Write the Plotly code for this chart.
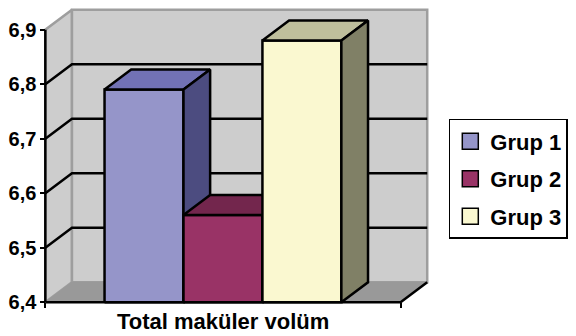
import plotly.graph_objects as go

# ---- data ----
categories = ["Total maküler volüm"]
series_names = ["Grup 1", "Grup 2", "Grup 3"]
values = [6.79, 6.56, 6.88]
tick_values = [6.4, 6.5, 6.6, 6.7, 6.8, 6.9]
tick_labels = ["6,4", "6,5", "6,6", "6,7", "6,8", "6,9"]

# ---- styles ----
front_colors = ["#9595C9", "#993366", "#FAF8D0"]
top_colors = ["#7272B5", "#73264D", "#BFBF9C"]
side_colors = ["#4C4C80", "#4D1A33", "#808066"]
WALL = "#CDCDCD"
WALL_EDGE = "#9E9E9E"
FLOOR = "#999999"
FONT = "Liberation Sans, Arial, sans-serif"

Y0, Y1 = tick_values[0], tick_values[-1]
GAP = 1.5            # Excel gap width (relative to bar width)
DX = 0.075           # depth offset, x units
DY = 0.0367          # depth offset, y units
BW = 1.0 / (len(series_names) + GAP)

fig = go.Figure()

def poly(xs, ys, fill, line_color, lw, **kw):
    fig.add_trace(go.Scatter(x=xs + [xs[0]], y=ys + [ys[0]], mode="lines", fill="toself",
                             fillcolor=fill, line=dict(color=line_color, width=lw),
                             hoverinfo="skip", showlegend=False, **kw))

def seg(xs, ys, color, lw):
    fig.add_trace(go.Scatter(x=xs, y=ys, mode="lines", line=dict(color=color, width=lw),
                             hoverinfo="skip", showlegend=False))

# walls and floor
poly([0, DX, DX, 0], [Y0, Y0 + DY, Y1 + DY, Y1], WALL, WALL_EDGE, 2.5)
poly([DX, 1 + DX, 1 + DX, DX], [Y0 + DY, Y0 + DY, Y1 + DY, Y1 + DY], WALL, WALL_EDGE, 2.5)
poly([0, 1, 1 + DX, DX], [Y0, Y0, Y0 + DY, Y0 + DY], FLOOR, FLOOR, 1)

# gridlines
for v in tick_values[1:-1]:
    seg([0, DX, 1 + DX], [v, v + DY, v + DY], "black", 2.5)

# bars
for i, (name, v) in enumerate(zip(series_names, values)):
    xl = GAP / 2 * BW + i * BW
    xr = xl + BW
    poly([xl, xr, xr, xl], [Y0, Y0, v, v], front_colors[i], "black", 2.5,
         legendgroup=name, name=name)
    poly([xl, xr, xr + DX, xl + DX], [v, v, v + DY, v + DY], top_colors[i], "black", 2.5,
         legendgroup=name, name=name)
    poly([xr, xr + DX, xr + DX, xr], [Y0, Y0 + DY, v + DY, v], side_colors[i], "black", 2.5,
         legendgroup=name, name=name)

# axis lines
seg([0, 0], [Y0, Y1], "black", 2.5)
seg([0, 1, 1 + DX], [Y0, Y0, Y0 + DY], "black", 2.5)

# legend entries
for i, name in enumerate(series_names):
    fig.add_trace(go.Scatter(x=[None], y=[None], mode="markers", name=name, legendgroup=name,
                             marker=dict(symbol="square", size=16, color=front_colors[i],
                                         line=dict(color="black", width=1.5))))

# ---- layout geometry ----
W, H = 576, 336
PX_X = 361.0      # px per x unit
PX_Y = 544.0      # px per y unit
X_LEFT_PX, Y_BASE_PX = 42.0, 302.0
XL, XR = -0.015, 1 + DX + 0.005
YB, YT = Y0 - 0.005, Y1 + DY + 0.003
ml = X_LEFT_PX + XL * PX_X
pw = (XR - XL) * PX_X
mr = W - ml - pw
mb = H - (Y_BASE_PX + (Y0 - YB) * PX_Y)
mt = Y_BASE_PX - (YT - Y0) * PX_Y
ph = H - mt - mb

def py(pix):
    """pixel row -> paper y"""
    return (H - mb - pix) / ph

fig.update_layout(
    width=W, height=H,
    margin=dict(l=ml, r=mr, t=mt, b=mb, pad=0),
    paper_bgcolor="white", plot_bgcolor="white",
    font=dict(family=FONT, color="black"),
    xaxis=dict(range=[XL, XR], anchor="free", position=(Y0 - YB) / (YT - YB),
               tickvals=[0, 1], showticklabels=False, ticks="outside", ticklen=5,
               tickwidth=2, tickcolor="black", showgrid=False, zeroline=False,
               showline=False, fixedrange=True),
    yaxis=dict(range=[YB, YT], anchor="free", position=(0 - XL) / (XR - XL),
               tickvals=tick_values, ticktext=tick_labels, ticks="outside", ticklen=5,
               tickwidth=2, tickcolor="black", showgrid=False, zeroline=False,
               showline=False, fixedrange=True,
               tickfont=dict(family=FONT, size=20, weight="bold", color="black")),
    showlegend=True,
    legend=dict(x=(452 - ml) / pw, xanchor="left", y=py(119),
                yanchor="top", bgcolor="white", bordercolor="black", borderwidth=1.5,
                traceorder="grouped", tracegroupgap=6,
                font=dict(family=FONT, size=22, weight="bold", color="black")),
    annotations=[dict(text=categories[0], x=0.5, xref="x", y=py(336),
                      yref="paper", xanchor="center", yanchor="bottom", showarrow=False,
                      font=dict(family=FONT, size=22, weight="bold", color="black"))],
)

fig.write_html("out.html")
